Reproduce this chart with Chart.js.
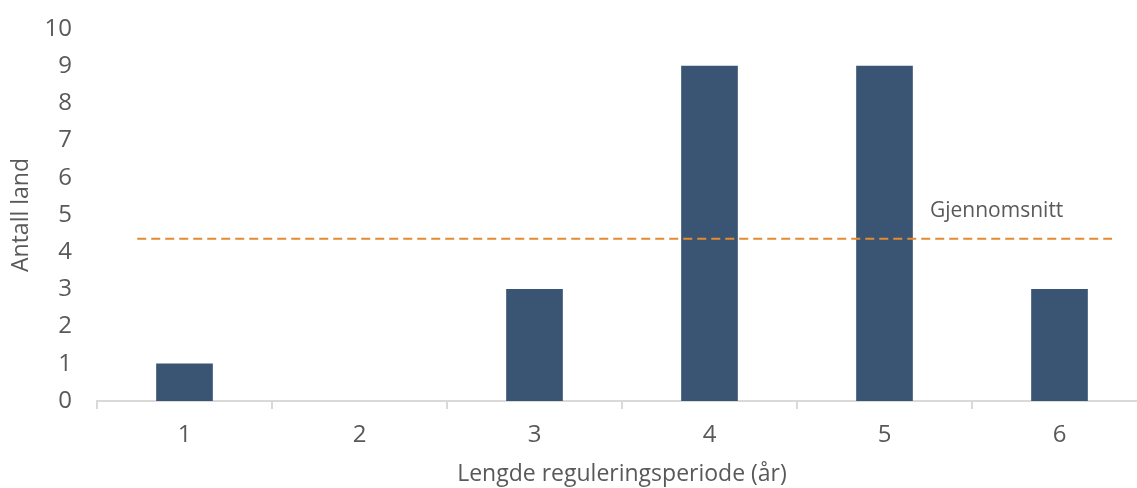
<!DOCTYPE html>
<html>
<head>
<meta charset="utf-8">
<script src="https://cdn.jsdelivr.net/npm/chart.js@4/dist/chart.umd.min.js"></script>
<style>
  html, body { margin: 0; padding: 0; background: #fff; overflow: hidden; }
  #wrap { width: 1150px; height: 488px; }
</style>
</head>
<body>
<div id="wrap"><canvas id="c" width="1150" height="488"></canvas></div>
<script>
// Regulation period length (years) and number of countries per length
const periodLabels = ['1', '2', '3', '4', '5', '6'];
const countryCounts = [1, 0, 3, 9, 9, 3];
// Average period length, drawn as a dashed reference line
const averageLength = 4.36;
const averageLineX = [0.73, 6.3];
const averageLabel = 'Gjennomsnitt';
const yTicks = [0, 1, 2, 3, 4, 5, 6, 7, 8, 9, 10];

const textColor = '#595959';
const barColor = '#3A5573';
const fontFamily = '"Open Sans", "Liberation Sans", sans-serif';

const averageTextPlugin = {
  id: 'averageText',
  afterDatasetsDraw(chart, args, opts) {
    const xs = chart.scales.x2, ys = chart.scales.y;
    const ctx = chart.ctx;
    ctx.save();
    ctx.font = '21px ' + fontFamily;
    ctx.fillStyle = textColor;
    ctx.textAlign = 'left';
    ctx.textBaseline = 'middle';
    ctx.fillText(opts.text, xs.getPixelForValue(opts.x), ys.getPixelForValue(opts.y));
    ctx.restore();
  }
};

new Chart(document.getElementById('c'), {
  data: {
    labels: periodLabels,
    datasets: [
      {
        type: 'bar',
        data: countryCounts,
        // empty categories get no visible sliver on the axis
        backgroundColor: c => (c.raw === 0 ? 'rgba(0,0,0,0)' : barColor),
        barThickness: 56,
        grouped: false,
        xAxisID: 'x',
        yAxisID: 'y',
        order: 2
      },
      {
        type: 'line',
        data: averageLineX.map(x => ({ x: x, y: averageLength })),
        borderColor: '#E48A30',
        borderWidth: 2,
        borderDash: [9, 5],
        pointRadius: 0,
        fill: false,
        xAxisID: 'x2',
        yAxisID: 'y',
        order: 1
      }
    ]
  },
  options: {
    responsive: false,
    animation: false,
    events: [],
    layout: { padding: { left: 8, right: 3, top: 29, bottom: 0 } },
    plugins: {
      legend: { display: false },
      tooltip: { enabled: false },
      averageText: { text: averageLabel, x: 5.26, y: 5.1 }
    },
    scales: {
      x: {
        type: 'category',
        position: 'bottom',
        offset: true,
        z: 1,
        afterFit(s) { s.height = 87; s.paddingLeft = 0; s.paddingRight = 0; },
        grid: {
          offset: true,
          drawOnChartArea: false,
          drawTicks: true,
          tickLength: 8,
          color: '#D9D9D9',
          lineWidth: 2
        },
        border: { display: true, color: '#D9D9D9', width: 2 },
        ticks: { color: textColor, font: { family: fontFamily, size: 24 }, padding: 12 },
        title: {
          display: true,
          text: 'Lengde reguleringsperiode (år)',
          color: textColor,
          font: { family: fontFamily, size: 23 },
          padding: 0
        }
      },
      x2: {
        type: 'linear',
        display: false,
        min: 0.5,
        max: 6.5
      },
      y: {
        type: 'linear',
        min: 0,
        max: 10,
        afterFit(s) { s.width = 89; s.paddingTop = 0; s.paddingBottom = 0; },
        afterBuildTicks(s) { s.ticks = yTicks.map(v => ({ value: v })); },
        grid: { display: false, drawTicks: false },
        border: { display: false },
        ticks: { color: textColor, font: { family: fontFamily, size: 24 }, padding: 25 },
        title: {
          display: true,
          text: 'Antall land',
          color: textColor,
          font: { family: fontFamily, size: 23 },
          padding: 0
        }
      }
    }
  },
  plugins: [averageTextPlugin]
});
</script>
</body>
</html>
